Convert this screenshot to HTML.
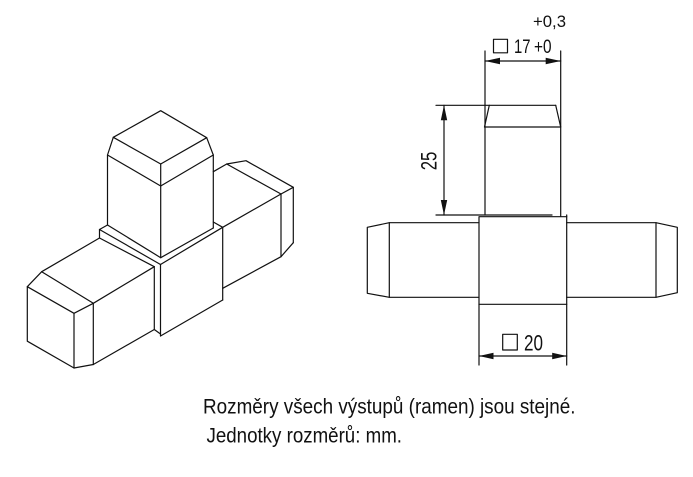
<!DOCTYPE html>
<html>
<head>
<meta charset="utf-8">
<style>
  html,body{margin:0;padding:0;background:#fff;}
  svg{display:block;}
  text{font-family:"Liberation Sans","DejaVu Sans",sans-serif;fill:#111;}
</style>
</head>
<body>
<svg width="693" height="477" viewBox="0 0 693 477" xmlns="http://www.w3.org/2000/svg">
<g fill="none" stroke="#111" stroke-width="1.2" stroke-linejoin="round" stroke-linecap="round">
  <!-- ===== ISOMETRIC VIEW ===== -->
  <!-- top arm -->
  <polyline points="113.3,137.3 160.7,110.7 206.7,137.7 160.7,164 113.3,137.3"/>
  <polyline points="113.3,137.3 107.5,155 160.7,186 213.3,155 206.7,137.7"/>
  <line x1="160.7" y1="164" x2="160.7" y2="186"/>
  <line x1="107.5" y1="155" x2="107.5" y2="225"/>
  <line x1="213.3" y1="155" x2="213.3" y2="228"/>
  <line x1="160.7" y1="186" x2="160.7" y2="257.7"/>
  <polyline points="107.5,225 160.7,257.7 213.3,228"/>
  <!-- cube rim -->
  <polyline points="107.5,225 99.5,229.5 99.5,238"/>
  <line x1="99.5" y1="229.5" x2="160.5" y2="264.5"/>
  <line x1="99.5" y1="238" x2="154.3" y2="266.7"/>
  <polyline points="160.5,264.5 222.7,227.3 213.3,222"/>
  <!-- cube front (+B) face -->
  <line x1="160.5" y1="264.5" x2="160.5" y2="336"/>
  <line x1="222.7" y1="227.3" x2="222.7" y2="300"/>
  <line x1="160.5" y1="336" x2="222.7" y2="300"/>
  <!-- right arm -->
  <line x1="213.3" y1="171.7" x2="226.7" y2="164"/>
  <polyline points="226.7,164 246,160.7 293.3,187.3 281,194 226.7,164"/>
  <line x1="222.7" y1="227.3" x2="281" y2="194"/>
  <line x1="281" y1="194" x2="281" y2="256.7"/>
  <line x1="293.3" y1="187.3" x2="293.3" y2="242.7"/>
  <polyline points="293.3,242.7 281,256.7 222.7,288.3"/>
  <!-- left arm -->
  <polygon points="27.3,286.7 74,313.3 74,368 27.3,341.2"/>
  <polyline points="27.3,286.7 41.7,271.7 93.3,303.3 74,313.3"/>
  <line x1="93.3" y1="303.3" x2="93.3" y2="364.5"/>
  <line x1="74" y1="368" x2="93.3" y2="364.5"/>
  <line x1="93.3" y1="303.3" x2="154.3" y2="266.7"/>
  <line x1="93.3" y1="364.5" x2="154.3" y2="329.5"/>
  <line x1="41.7" y1="271.7" x2="99.5" y2="238"/>
  <line x1="154.3" y1="266.7" x2="154.3" y2="329.5"/>
  <line x1="154.3" y1="329.5" x2="160.5" y2="334"/>

  <!-- ===== ORTHOGRAPHIC VIEW ===== -->
  <!-- top arm -->
  <line x1="436" y1="105.3" x2="555.7" y2="105.3"/>
  <polyline points="489.3,105.3 484.5,127 560.7,127 555.7,105.3"/>
  <line x1="485" y1="51" x2="485" y2="215"/>
  <line x1="560.7" y1="51" x2="560.7" y2="216"/>
  <line x1="436" y1="215" x2="552" y2="215"/>
  <!-- 17 dim line -->
  <line x1="485" y1="61" x2="560.7" y2="61"/>
  <!-- 25 dim line -->
  <line x1="444" y1="105.3" x2="444" y2="215"/>
  <!-- center square -->
  <rect x="479" y="216.7" width="87.7" height="87.6"/>
  <line x1="566.7" y1="215" x2="566.7" y2="216.7"/>
  <!-- left arm -->
  <polyline points="479,222.7 389.3,222.7 389.3,297.3 479,297.3"/>
  <polyline points="389.3,222.7 367.3,227.3 367.3,293.3 389.3,297.3"/>
  <!-- right arm -->
  <polyline points="566.7,222.7 656,222.7 656,297.3 566.7,297.3"/>
  <polyline points="656,222.7 677.3,227.3 677.3,292.7 656,297.3"/>
  <!-- 20 dim -->
  <line x1="479" y1="304.3" x2="479" y2="365"/>
  <line x1="566.7" y1="304.3" x2="566.7" y2="365"/>
  <line x1="479" y1="356" x2="566.7" y2="356"/>
  <!-- square symbols -->
  <rect x="493.5" y="39.3" width="14" height="13.5"/>
  <rect x="502.7" y="334.3" width="14.6" height="15.7"/>
</g>
<!-- arrowheads -->
<g fill="#111" stroke="none">
  <polygon points="485,61 500,57.8 500,64.2"/>
  <polygon points="560.7,61 545.7,57.8 545.7,64.2"/>
  <polygon points="444,105.3 440.8,120.3 447.2,120.3"/>
  <polygon points="444,215 440.8,200 447.2,200"/>
  <polygon points="479,356 493.5,352.8 493.5,359.2"/>
  <polygon points="566.7,356 552.2,352.8 552.2,359.2"/>
</g>
<!-- dimension text -->
<text x="533" y="27.2" font-size="17" textLength="33" lengthAdjust="spacingAndGlyphs">+0,3</text>
<text x="514" y="53" font-size="19.5" textLength="16.5" lengthAdjust="spacingAndGlyphs">17</text>
<text x="534" y="53" font-size="19.5" textLength="17.5" lengthAdjust="spacingAndGlyphs">+0</text>
<text x="524" y="350.7" font-size="22" textLength="19" lengthAdjust="spacingAndGlyphs">20</text>
<text transform="translate(436.7,170.3) rotate(-90)" x="0" y="0" font-size="22" textLength="18.6" lengthAdjust="spacingAndGlyphs">25</text>
<!-- caption -->
<text x="203" y="413.3" font-size="21" textLength="372.5" lengthAdjust="spacingAndGlyphs">Rozměry všech výstupů (ramen) jsou stejné.</text>
<text x="206.5" y="442.7" font-size="21" textLength="195.5" lengthAdjust="spacingAndGlyphs">Jednotky rozměrů: mm.</text>
</svg>
</body>
</html>
